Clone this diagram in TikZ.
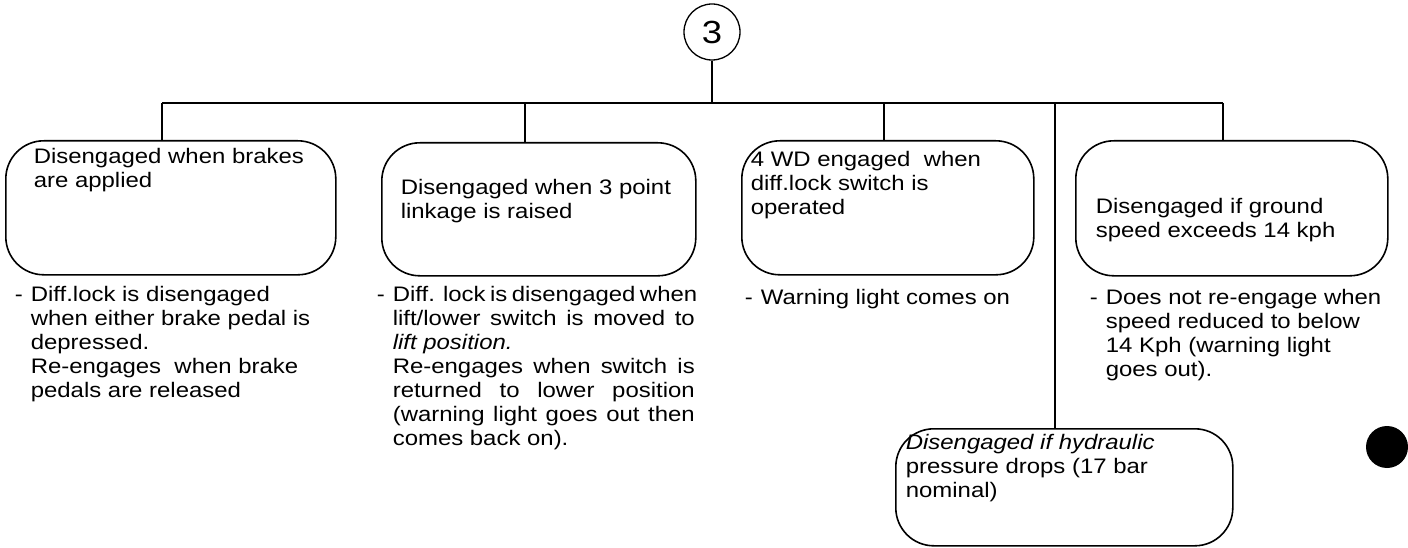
\documentclass[tikz,border=0pt]{standalone}
\usepackage{fontspec}
\setmainfont{Liberation Sans}[FakeStretch=1.14]
\newcommand{\jl}[1]{\makebox[302pt][s]{#1}}
\newcommand{\dsh}{\llap{-\hspace{8pt}}}
\begin{document}
\begin{tikzpicture}[x=1pt,y=-1pt,line width=1.6pt,
  box/.style={draw, rounded corners=38pt, inner sep=0pt, anchor=north west},
  txt/.style={anchor=north west, inner sep=0pt, align=left, font=\fontsize{21}{24}\selectfont},
  dot/.style={circle, fill=black, inner sep=0pt, minimum size=42pt}]
\useasboundingbox (0,0) rectangle (1408,548);
% top circle
\node[circle, draw, line width=1.3pt, minimum size=56pt, inner sep=0pt, font=\fontsize{32}{32}\selectfont] (c3) at (712,32) {3};
% boxes
\node[box, minimum width=330pt, minimum height=134pt] (box1) at (5,140) {};
\node[box, minimum width=314pt, minimum height=133pt] (box2) at (381,142) {};
\node[box, minimum width=292pt, minimum height=134pt] (box3) at (741,140) {};
\node[box, minimum width=312pt, minimum height=135pt] (box4) at (1075,140) {};
\node[box, minimum width=337pt, minimum height=117pt] (box5) at (895,428) {};
% bus
\coordinate (j1) at (162,103);
\coordinate (j2) at (525,103);
\coordinate (j3) at (884,103);
\coordinate (j5) at (1055,103);
\coordinate (j4) at (1223,103);
\draw (j1) -- (j4);
\draw (c3.south) -- (c3.south |- j1);
\draw (j1) -- (j1 |- box1.north);
\draw (j2) -- (j2 |- box2.north);
\draw (j3) -- (j3 |- box3.north);
\draw (j4) -- (j4 |- box4.north);
\draw (j5) -- (j5 |- box5.north);
% box texts
\node[txt] (t1) at (33,147) {Disengaged when brakes\\are applied};
\node[txt] (t2) at (400,178) {Disengaged when 3 point\\linkage is raised};
\node[txt] (t3) at (750,150) {4 WD engaged\ \ when\\diff.lock switch is\\operated};
\node[txt] (t4) at (1095,197) {Disengaged if ground\\speed exceeds 14 kph};
\node[txt] (t5) at (905,433) {\itshape Disengaged if hydraulic\\pressure drops (17 bar\\nominal)};
% notes
\node[txt] (n1) at (30,285) {\dsh Diff.lock is disengaged\\when either brake pedal is\\depressed.\\Re-engages\ \ when brake\\pedals are released};
\node[txt] (n2) at (392,285) {\jl{\dsh Diff. lock is disengaged when}\\\jl{lift/lower switch is moved to}\\\textit{lift position.}\\\jl{Re-engages when switch is}\\\jl{returned to lower position}\\\jl{(warning light goes out then}\\comes back on).};
\node[txt] (n3) at (760,288) {\dsh Warning light comes on};
\node[txt] (n4) at (1105,288) {\dsh Does not re-engage when\\speed reduced to below\\14 Kph (warning light\\goes out).};
% punch mark
\node[dot] (hole) at (1387,447) {};
\end{tikzpicture}
\end{document}
